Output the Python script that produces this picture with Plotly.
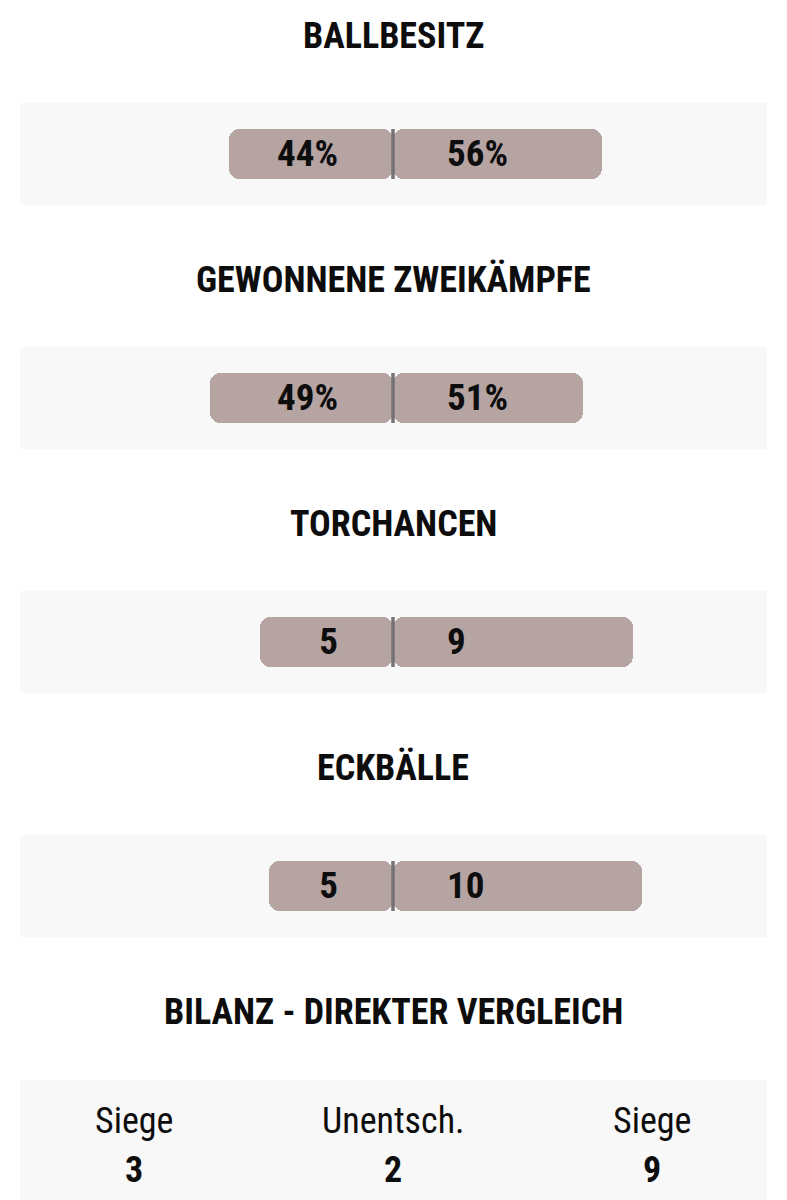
import plotly.graph_objects as go

# ---- data ----
categories = ["BALLBESITZ", "GEWONNENE ZWEIKÄMPFE", "TORCHANCEN", "ECKBÄLLE"]
home_values = [44, 49, 5, 5]
away_values = [56, 51, 9, 10]
home_labels = ["44%", "49%", "5", "5"]
away_labels = ["56%", "51%", "9", "10"]

bilanz_title = "BILANZ - DIREKTER VERGLEICH"
bilanz_labels = ["Siege", "Unentsch.", "Siege"]
bilanz_values = [3, 2, 9]

# ---- styling / layout constants ----
W, H = 787, 1200
BAR_PX = 373          # full bar length in px (share = 1.0)
CENTER_PX = 393
ROW_PX = 244          # vertical distance between rows
ROW0_PX = 154         # centre of first bar
FONT = "Roboto Condensed, Roboto, Arial"
BAR_COLOR = "#b5a4a2"
BAND_COLOR = "#f8f8f8"
DIV_COLOR = "#747272"
TXT = "#0d0d0d"

px_x = lambda p: (p - CENTER_PX) / BAR_PX      # pixel -> x units
px_y = lambda p: p / ROW_PX                    # pixel offset -> row units

rows = list(range(len(categories)))
home_share = [h / (h + a) for h, a in zip(home_values, away_values)]
away_share = [a / (h + a) for h, a in zip(home_values, away_values)]

fig = go.Figure()

fig.add_trace(go.Bar(
    y=rows, x=[-s for s in home_share], base=0, orientation="h",
    width=px_y(50), marker=dict(color=BAR_COLOR, cornerradius=10, line=dict(width=0)),
    hoverinfo="skip", showlegend=False))
fig.add_trace(go.Bar(
    y=rows, x=away_share, base=0, orientation="h",
    width=px_y(50), marker=dict(color=BAR_COLOR, cornerradius=10, line=dict(width=0)),
    hoverinfo="skip", showlegend=False))

label_rows = [r + px_y(2.5) for r in rows]
fig.add_trace(go.Scatter(
    y=label_rows, x=[px_x(338)] * len(rows), mode="text", text=home_labels,
    textposition="middle left",
    textfont=dict(family=FONT, size=37, color=TXT, weight="bold"),
    hoverinfo="skip", showlegend=False))
fig.add_trace(go.Scatter(
    y=label_rows, x=[px_x(447)] * len(rows), mode="text", text=away_labels,
    textposition="middle right",
    textfont=dict(family=FONT, size=37, color=TXT, weight="bold"),
    hoverinfo="skip", showlegend=False))

shapes = []
annotations = []
for i, cat in enumerate(categories):
    shapes.append(dict(type="rect", xref="paper", yref="y", x0=20 / W, x1=767 / W,
                       y0=i - px_y(51), y1=i + px_y(51), fillcolor=BAND_COLOR,
                       line=dict(width=0), layer="below"))
    shapes.append(dict(type="line", xref="x", yref="y", x0=0, x1=0,
                       y0=i - px_y(25), y1=i + px_y(25),
                       line=dict(color=DIV_COLOR, width=3.5), layer="above"))
    annotations.append(dict(text=cat, x=0, y=i - px_y(118), xref="x", yref="y",
                            showarrow=False,
                            font=dict(family=FONT, size=36, color=TXT, weight="bold")))

b = len(categories)
annotations.append(dict(text=bilanz_title, x=0, y=b - px_y(118), xref="x", yref="y",
                        showarrow=False,
                        font=dict(family=FONT, size=36, color=TXT, weight="bold")))
shapes.append(dict(type="rect", xref="paper", yref="y", x0=20 / W, x1=767 / W,
                   y0=b - px_y(50), y1=b + px_y(80), fillcolor=BAND_COLOR,
                   line=dict(width=0), layer="below"))
bx = [px_x(134), px_x(393), px_x(652)]
for x, lab, val in zip(bx, bilanz_labels, bilanz_values):
    annotations.append(dict(text=lab, x=x, y=b - px_y(9), xref="x", yref="y",
                            showarrow=False,
                            font=dict(family=FONT, size=36, color=TXT)))
    annotations.append(dict(text=str(val), x=x, y=b + px_y(40), xref="x", yref="y",
                            showarrow=False,
                            font=dict(family=FONT, size=36, color=TXT, weight="bold")))

fig.update_layout(
    width=W, height=H, margin=dict(l=0, r=0, t=0, b=0),
    paper_bgcolor="white", plot_bgcolor="white",
    barmode="overlay", bargap=0,
    shapes=shapes, annotations=annotations,
    xaxis=dict(range=[px_x(0), px_x(W)], visible=False, fixedrange=True),
    yaxis=dict(range=[(H - ROW0_PX) / ROW_PX, -ROW0_PX / ROW_PX], visible=False,
               fixedrange=True),
)

fig.write_html("out.html")
